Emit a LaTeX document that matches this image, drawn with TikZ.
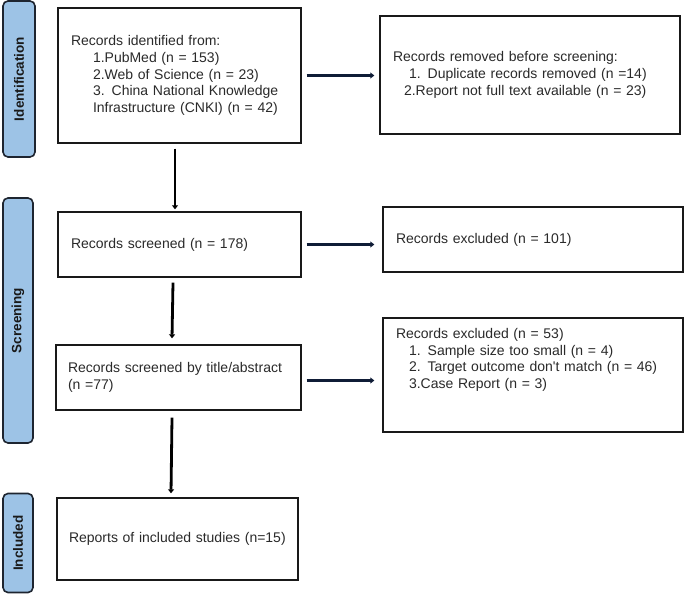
\documentclass[tikz,border=0pt]{standalone}
\usepackage{fontspec}
\setmainfont{Liberation Sans}
\usetikzlibrary{arrows.meta,calc}
\definecolor{sidefill}{HTML}{9DC3E6}
\definecolor{sideline}{HTML}{1E2530}
\definecolor{navy}{HTML}{0F1C36}
\definecolor{txt}{HTML}{2A2A2A}
\begin{document}
\begin{tikzpicture}[x=1pt,y=-1pt,
  box/.style={draw=black!90, line width=1.4pt, fill=white, align=left,
    inner xsep=13pt, inner ysep=0pt, font=\fontsize{14}{16.7}\selectfont, text=txt},
  side/.style={draw=sideline, line width=1.6pt, fill=sidefill, rounded corners=5pt,
    rotate=90, font=\fontsize{13.5}{16}\selectfont\bfseries, inner sep=0pt, text=black!90},
  varrow/.style={line width=2.8pt, -{Triangle[length=4pt,width=6pt]}},
  harrow/.style={draw=navy, line width=3pt, -{Triangle[length=4pt,width=6pt]}}]
\useasboundingbox (0,0) rectangle (685,594);

% phase labels
\node[side, minimum width=156pt, minimum height=32pt] (sid) at (19,79) {Identification};
\node[side, minimum width=245pt, minimum height=30pt] (sscr) at (18,320.5) {Screening};
\node[side, minimum width=99pt, minimum height=30pt] (sinc) at (18,543) {Included};

% boxes
\node[box, minimum width=243pt, text width=217pt, minimum height=135pt] (b1) at (179.5,75.5)
  {Records identified from:\\
   \hspace*{22pt}1.PubMed (n = 153)\\
   \hspace*{22pt}2.Web of Science (n = 23)\\
   \hspace*{22pt}3. China National Knowledge\\
   \hspace*{22pt}Infrastructure (CNKI) (n = 42)};
\node[box, minimum width=300pt, text width=274pt, minimum height=118pt] (b2) at (530,75)
  {Records removed before screening:\\
   \hspace*{16pt}1. Duplicate records removed (n =14)\\
   \hspace*{11pt}2.Report not full text available (n = 23)};
\node[box, minimum width=243pt, text width=217pt, minimum height=65pt] (b3) at (179.5,244.5)
  {Records screened (n = 178)};
\node[box, minimum width=300pt, text width=274pt, minimum height=65pt] (b4) at (533,239.5)
  {Records excluded (n = 101)};
\node[box, minimum width=245pt, text width=221pt, inner xsep=12pt, minimum height=65pt] (b5) at (178.5,377.5)
  {Records screened by title/abstract\\(n =77)};
\node[box, minimum width=300pt, text width=274pt, minimum height=114pt] (b6) at (533,375)
  {Records excluded (n = 53)\\
   \hspace*{13pt}1. Sample size too small (n = 4)\\
   \hspace*{13pt}2. Target outcome don\textquotesingle t match (n = 46)\\
   \hspace*{13pt}3.Case Report (n = 3)\\ \mbox{}\\ \mbox{}};
\node[box, minimum width=241pt, text width=217pt, inner xsep=12pt, minimum height=82pt] (b7) at (177.5,539)
  {Reports of included studies (n=15)};

% vertical arrows
\draw[varrow] ([xshift=-4.5pt,yshift=-5pt]b1.south) -- ([xshift=-4.5pt,yshift=2pt]b3.north);
\draw[varrow] ([xshift=-6.5pt,yshift=-5pt]b3.south) -- ([xshift=-6.5pt,yshift=6pt]b5.north);
\draw[varrow] ([xshift=-6.5pt,yshift=-7pt]b5.south) -- ([xshift=-6.5pt,yshift=4pt]b7.north);

% horizontal arrows
\draw[harrow] ([xshift=5pt]b1.east) -- ([xshift=-5pt]b1.east -| b2.west);
\draw[harrow] ([xshift=5pt]b3.east) -- ([xshift=-8pt]b3.east -| b4.west);
\draw[harrow] ([xshift=5pt,yshift=-3pt]b5.east) -- ([xshift=-8pt,yshift=-3pt]b5.east -| b6.west);
\end{tikzpicture}
\end{document}
